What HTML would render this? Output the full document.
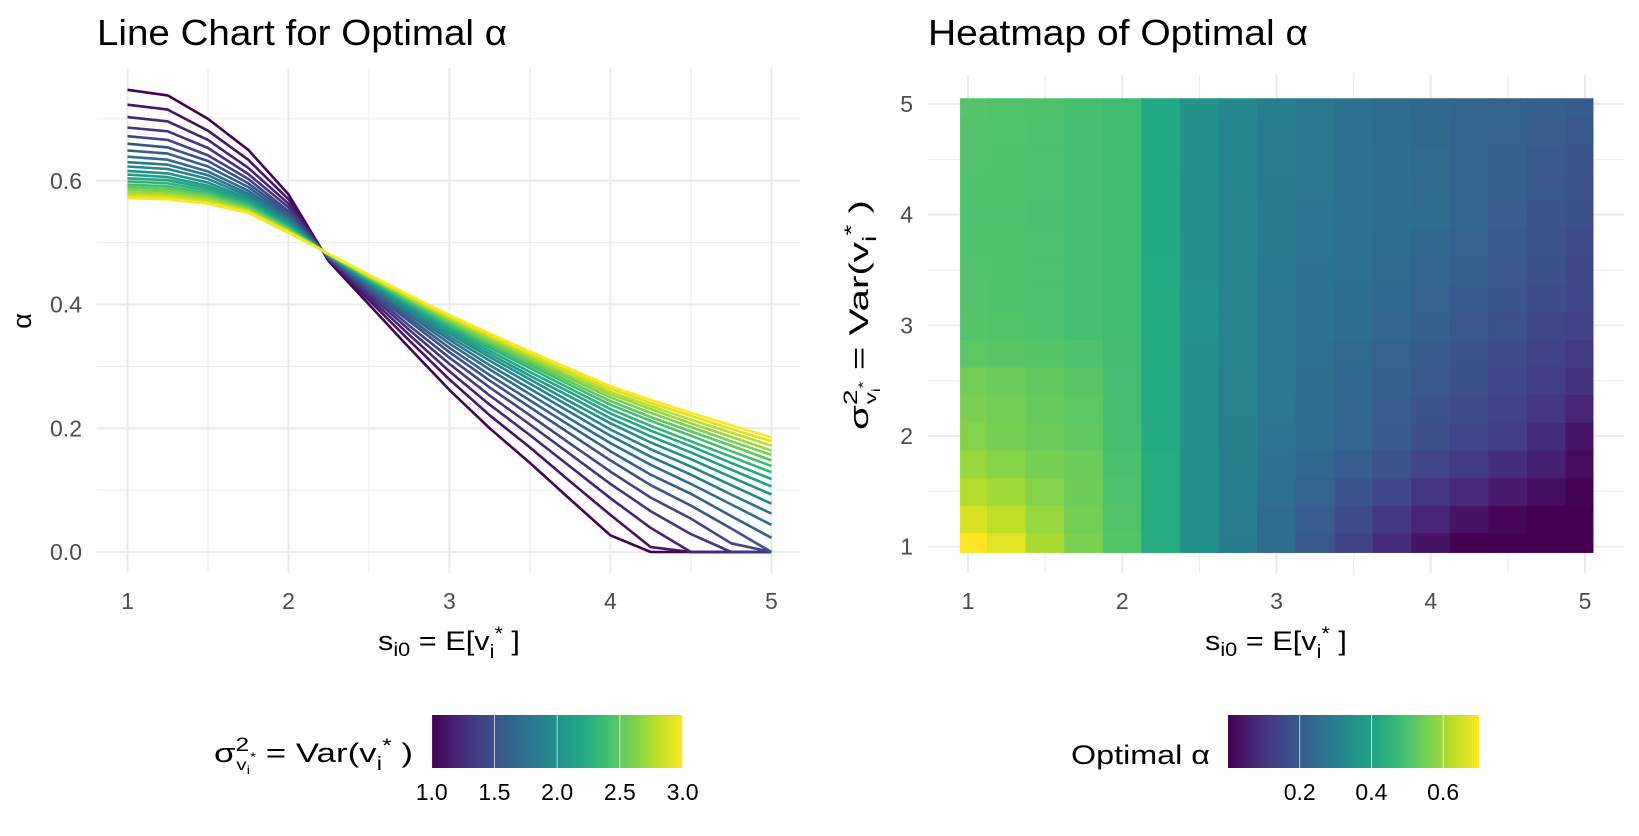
<!DOCTYPE html>
<html><head><meta charset="utf-8">
<style>
html,body{margin:0;padding:0;background:#fff;}
svg{display:block;font-family:"Liberation Sans",Arial,sans-serif;}
.tick{font-size:23px;fill:#4d4d4d;}
.atitle{font-size:27px;fill:#000;}
.title{font-size:36px;fill:#000;}
</style></head>
<body>
<svg id="chart" width="1639" height="836" viewBox="0 0 1639 836" xmlns="http://www.w3.org/2000/svg">
  <g id="left"></g>
  <g id="right"></g>
  <text class="title" x="97" y="45" textLength="410" lengthAdjust="spacingAndGlyphs">Line Chart for Optimal α</text>
  <text class="title" x="928" y="45" textLength="380" lengthAdjust="spacingAndGlyphs">Heatmap of Optimal α</text>
  <text class="atitle" x="378" y="650" textLength="142" lengthAdjust="spacingAndGlyphs">s<tspan font-size="19" dy="6">i0</tspan><tspan dy="-6"> = E[v</tspan><tspan font-size="19" dy="8">i</tspan><tspan font-size="19" dy="-18">*</tspan><tspan dy="10"> ]</tspan></text>
  <text class="atitle" x="1205" y="650" textLength="142" lengthAdjust="spacingAndGlyphs">s<tspan font-size="19" dy="6">i0</tspan><tspan dy="-6"> = E[v</tspan><tspan font-size="19" dy="8">i</tspan><tspan font-size="19" dy="-18">*</tspan><tspan dy="10"> ]</tspan></text>
  <text class="atitle" transform="translate(31,321) rotate(-90)" text-anchor="middle" font-size="28">α</text>
  <text class="atitle" transform="translate(868,430) rotate(-90)" textLength="230" lengthAdjust="spacingAndGlyphs">σ<tspan font-size="19" dy="-11">2</tspan><tspan font-size="16" dx="-10" dy="19">v</tspan><tspan font-size="12" dy="4">i</tspan><tspan font-size="12" dy="-13">*</tspan><tspan dy="1"> = Var(v</tspan><tspan font-size="19" dy="8">i</tspan><tspan font-size="19" dy="-18">*</tspan><tspan dy="10"> )</tspan></text>
  <text class="atitle" x="214" y="762" textLength="199" lengthAdjust="spacingAndGlyphs">σ<tspan font-size="19" dy="-11">2</tspan><tspan font-size="16" dx="-10" dy="19">v</tspan><tspan font-size="12" dy="4">i</tspan><tspan font-size="12" dy="-13">*</tspan><tspan dy="1"> = Var(v</tspan><tspan font-size="19" dy="8">i</tspan><tspan font-size="19" dy="-18">*</tspan><tspan dy="10"> )</tspan></text>
  <text class="atitle" x="1071" y="764" textLength="139" lengthAdjust="spacingAndGlyphs">Optimal α</text>
  <g id="legends"></g>
</svg>
<script>
// ---------- line chart data ----------
const lineX = [1,1.25,1.5,1.75,2,2.25,2.5,2.75,3,3.25,3.5,3.75,4,4.25,4.5,4.75,5];
const lineVar = [1.0,1.1,1.2,1.3,1.4,1.5,1.6,1.7,1.8,1.9,2.0,2.1,2.2,2.3,2.4,2.5,2.6,2.7,2.8,2.9,3.0];
const lineAlpha = [
[.747,.738,.700,.650,.578,.470,.400,.330,.262,.200,.144,.085,.027,0,0,0,0],
[.723,.715,.681,.634,.570,.472,.407,.342,.279,.221,.169,.114,.060,.008,0,0,0],
[.703,.696,.666,.621,.563,.473,.412,.351,.292,.238,.189,.138,.087,.039,0,0,0],
[.686,.680,.653,.611,.557,.474,.417,.359,.304,.253,.206,.158,.110,.066,.029,0,0],
[.672,.666,.641,.603,.551,.475,.421,.366,.314,.266,.221,.175,.130,.088,.054,.014,0],
[.660,.654,.632,.596,.547,.476,.424,.373,.323,.277,.234,.191,.148,.108,.075,.038,0],
[.649,.644,.623,.590,.543,.477,.427,.378,.330,.286,.245,.204,.163,.125,.094,.058,.023],
[.639,.634,.615,.584,.540,.477,.430,.383,.337,.295,.255,.215,.176,.141,.110,.077,.044],
[.630,.626,.609,.579,.537,.478,.432,.387,.343,.302,.264,.226,.188,.154,.125,.093,.062],
[.623,.619,.603,.575,.534,.479,.434,.390,.348,.309,.272,.235,.198,.166,.138,.108,.078],
[.616,.612,.597,.571,.532,.479,.436,.394,.353,.315,.279,.243,.208,.177,.150,.121,.093],
[.610,.606,.592,.568,.529,.479,.438,.397,.357,.320,.285,.251,.216,.187,.161,.133,.106],
[.604,.601,.588,.565,.527,.480,.439,.400,.361,.325,.291,.258,.224,.196,.171,.144,.118],
[.599,.596,.584,.562,.525,.480,.441,.402,.365,.330,.297,.264,.231,.204,.179,.154,.129],
[.594,.591,.580,.560,.524,.481,.442,.404,.368,.334,.302,.270,.238,.212,.188,.163,.139],
[.590,.587,.577,.557,.522,.481,.443,.407,.371,.338,.306,.275,.244,.218,.195,.172,.148],
[.586,.583,.574,.555,.521,.481,.444,.409,.374,.341,.310,.280,.250,.225,.202,.179,.157],
[.582,.579,.571,.553,.519,.481,.445,.410,.376,.345,.314,.284,.255,.231,.208,.186,.164],
[.578,.576,.568,.551,.518,.482,.446,.412,.379,.348,.318,.289,.259,.236,.214,.193,.172],
[.575,.573,.565,.550,.517,.482,.447,.414,.381,.350,.321,.292,.264,.241,.220,.199,.179],
[.572,.570,.563,.548,.516,.482,.448,.415,.383,.353,.324,.296,.268,.246,.225,.205,.185]
];
const lineXTicks = [1,2,3,4,5];
const lineYTicks = [0,0.2,0.4,0.6];
const lineYTickLabels = ["0.0","0.2","0.4","0.6"];
const lineLegendTicks = [1.0,1.5,2.0,2.5,3.0];
const lineLegendLabels = ["1.0","1.5","2.0","2.5","3.0"];

// ---------- heatmap data ----------
const hmX = [1,1.25,1.5,1.75,2,2.25,2.5,2.75,3,3.25,3.5,3.75,4,4.25,4.5,4.75,5];
const hmY = [1,1.25,1.5,1.75,2,2.25,2.5,2.75,3,3.25,3.5,3.75,4,4.25,4.5,4.75,5];
const hmZ = [
[.700,.670,.610,.560,.510,.430,.350,.290,.245,.190,.140,.085,.035,0,0,0,0],
[.660,.630,.590,.550,.505,.430,.350,.295,.250,.205,.160,.115,.070,.035,.010,0,0],
[.620,.600,.570,.545,.500,.430,.350,.300,.260,.220,.185,.150,.110,.080,.050,.025,.005],
[.590,.575,.555,.540,.495,.430,.350,.300,.265,.235,.205,.175,.145,.120,.090,.060,.020],
[.570,.555,.540,.525,.490,.425,.350,.305,.275,.250,.225,.200,.170,.150,.130,.090,.040],
[.560,.550,.535,.520,.487,.425,.352,.310,.277,.253,.230,.205,.180,.160,.140,.110,.070],
[.550,.540,.530,.515,.485,.425,.354,.310,.279,.256,.235,.210,.190,.170,.150,.125,.100],
[.520,.515,.510,.500,.482,.425,.357,.315,.280,.260,.240,.218,.200,.180,.160,.140,.120],
[.510,.505,.500,.490,.480,.425,.360,.315,.280,.265,.255,.230,.210,.190,.175,.155,.140],
[.507,.503,.499,.490,.480,.424,.358,.315,.283,.268,.258,.236,.219,.199,.183,.163,.148],
[.505,.502,.498,.490,.480,.423,.355,.315,.286,.270,.260,.242,.227,.207,.190,.170,.155],
[.502,.501,.496,.490,.480,.421,.352,.315,.288,.273,.263,.248,.236,.216,.198,.178,.162],
[.500,.500,.495,.490,.480,.420,.350,.315,.290,.275,.265,.255,.245,.225,.205,.185,.170],
[.502,.501,.496,.490,.480,.420,.351,.317,.292,.276,.264,.253,.243,.226,.209,.190,.177],
[.505,.502,.498,.490,.480,.420,.352,.320,.295,.277,.263,.251,.240,.227,.213,.198,.185],
[.507,.504,.499,.490,.480,.420,.354,.322,.297,.279,.262,.250,.238,.228,.217,.204,.192],
[.510,.505,.500,.490,.480,.420,.355,.325,.300,.280,.260,.248,.235,.228,.220,.210,.200]
];
const hmXTicks = [1,2,3,4,5];
const hmYTicks = [1,2,3,4,5];
const hmLegendTicks = [0.2,0.4,0.6];
const hmLegendLabels = ["0.2","0.4","0.6"];

// ---------- helpers ----------
const NS = "http://www.w3.org/2000/svg";
const VIR = ["#440154","#482475","#414487","#355f8d","#2a788e","#21918c","#22a884","#44bf70","#7ad151","#bddf26","#fde725"];
function hex2rgb(h){return [parseInt(h.slice(1,3),16),parseInt(h.slice(3,5),16),parseInt(h.slice(5,7),16)];}
function viridis(t){
  t=Math.max(0,Math.min(1,t));
  const p=t*10, i=Math.min(9,Math.floor(p)), f=p-i;
  const a=hex2rgb(VIR[i]), b=hex2rgb(VIR[i+1]);
  return "rgb("+a.map((v,k)=>Math.round(v+(b[k]-v)*f)).join(",")+")";
}
function el(tag, attrs, parent){
  const e=document.createElementNS(NS,tag);
  for(const k in attrs) e.setAttribute(k,attrs[k]);
  parent.appendChild(e); return e;
}

// ---------- left: line chart ----------
const L = document.getElementById("left");
const lx = v => 127.5 + (v-1)*(771.4-127.5)/4;
const ly = v => 552 - v*618.7;
const LP = {x0:96.6, x1:800, y0:68, y1:573};
for (let v=1.5; v<5; v+=1) {
  const g=el("line",{x1:lx(v),x2:lx(v),y1:LP.y0,y2:LP.y1,stroke:"#ebebeb","stroke-width":1},L);
  
  
}
[0.1,0.3,0.5,0.7].forEach(v=>{
  const g=el("line",{x1:LP.x0,x2:LP.x1,y1:ly(v),y2:ly(v),stroke:"#ebebeb","stroke-width":1},L);
  
  
});
lineXTicks.forEach(v=>{
  const g=el("line",{x1:lx(v),x2:lx(v),y1:LP.y0,y2:LP.y1,stroke:"#ebebeb","stroke-width":2},L);
  
  
  const t=el("text",{x:lx(v),y:609,"text-anchor":"middle",class:"tick"},L);
  t.textContent=String(v);
  
  
});
lineYTicks.forEach((v,i)=>{
  const g=el("line",{x1:LP.x0,x2:LP.x1,y1:ly(v),y2:ly(v),stroke:"#ebebeb","stroke-width":2},L);
  
  
  const t=el("text",{x:82,y:ly(v)+8,"text-anchor":"end",class:"tick"},L);
  t.textContent=lineYTickLabels[i];
  
  
});
const vMin=Math.min(...lineVar), vMax=Math.max(...lineVar);
lineVar.forEach((v,i)=>{
  const pts=lineX.map((x,j)=>lx(x).toFixed(1)+","+ly(lineAlpha[i][j]).toFixed(1)).join(" ");
  const p=el("polyline",{points:pts,fill:"none",stroke:viridis((v-vMin)/(vMax-vMin)),"stroke-width":2.6,"stroke-linejoin":"round"},L);
  
  
});

// ---------- right: heatmap ----------
const R = document.getElementById("right");
const hx = v => 968 + (v-1)*(1585-968)/4;
const hy = v => 546.6 - (v-1)*(546.6-104)/4;
const RP = {x0:928, x1:1624, y0:75, y1:573};
for (let v=1.5; v<5; v+=1) {
  const g=el("line",{x1:hx(v),x2:hx(v),y1:RP.y0,y2:RP.y1,stroke:"#ebebeb","stroke-width":1},R);
  
  
  const h=el("line",{x1:RP.x0,x2:RP.x1,y1:hy(v),y2:hy(v),stroke:"#ebebeb","stroke-width":1},R);
  
  
}
hmXTicks.forEach(v=>{
  const g=el("line",{x1:hx(v),x2:hx(v),y1:RP.y0,y2:RP.y1,stroke:"#ebebeb","stroke-width":2},R);
  
  
  const t=el("text",{x:hx(v),y:609,"text-anchor":"middle",class:"tick"},R);
  t.textContent=String(v);
  
  
});
hmYTicks.forEach(v=>{
  const g=el("line",{x1:RP.x0,x2:RP.x1,y1:hy(v),y2:hy(v),stroke:"#ebebeb","stroke-width":2},R);
  
  
  const t=el("text",{x:913,y:hy(v)+8,"text-anchor":"end",class:"tick"},R);
  t.textContent=String(v);
  
  
});
const zMin=0, zMax=0.70;
const dx=(hmX[1]-hmX[0])/2, dy=(hmY[1]-hmY[0])/2;
const xLo=hmX[0]-0.05, xHi=hmX[hmX.length-1]+0.05, yLo=hmY[0]-0.05, yHi=hmY[hmY.length-1]+0.05;
hmY.forEach((yv,i)=>{
  hmX.forEach((xv,j)=>{
    const a=Math.max(xLo,xv-dx), b=Math.min(xHi,xv+dx);
    const c=Math.max(yLo,yv-dy), d=Math.min(yHi,yv+dy);
    const col=viridis((hmZ[i][j]-zMin)/(zMax-zMin));
    const r=el("rect",{x:hx(a),y:hy(d),width:hx(b)-hx(a)+0.6,height:hy(c)-hy(d)+0.6,fill:col,stroke:col,"stroke-width":0.4},R);
    
    
  });
});

// ---------- legends ----------
const G = document.getElementById("legends");
const defs = el("defs",{},G);
const grad = el("linearGradient",{id:"vgrad",x1:"0",x2:"1",y1:"0",y2:"0"},defs);
VIR.forEach((c,i)=>el("stop",{offset:(i/10),"stop-color":c},grad));
function colorbar(x0,x1,ticks,labels,dmin,dmax,name){
  const r=el("rect",{x:x0,y:715,width:x1-x0,height:53,fill:"url(#vgrad)"},G);
  
  
  ticks.forEach((v,i)=>{
    const px=x0+(v-dmin)/(dmax-dmin)*(x1-x0);
    const t1=el("line",{x1:px,x2:px,y1:715,y2:768,stroke:"#fff","stroke-width":0.8,"stroke-opacity":0.85},G);
    
    
    const t=el("text",{x:px,y:800,"text-anchor":"middle",class:"tick",style:"fill:#000"},G);
    t.textContent=labels[i];
    
    
  });
}
colorbar(431.7,682.6,lineLegendTicks,lineLegendLabels,vMin,vMax,"line-legend");
colorbar(1228,1479,hmLegendTicks,hmLegendLabels,zMin,zMax,"heatmap-legend");
</script>
</body></html>
